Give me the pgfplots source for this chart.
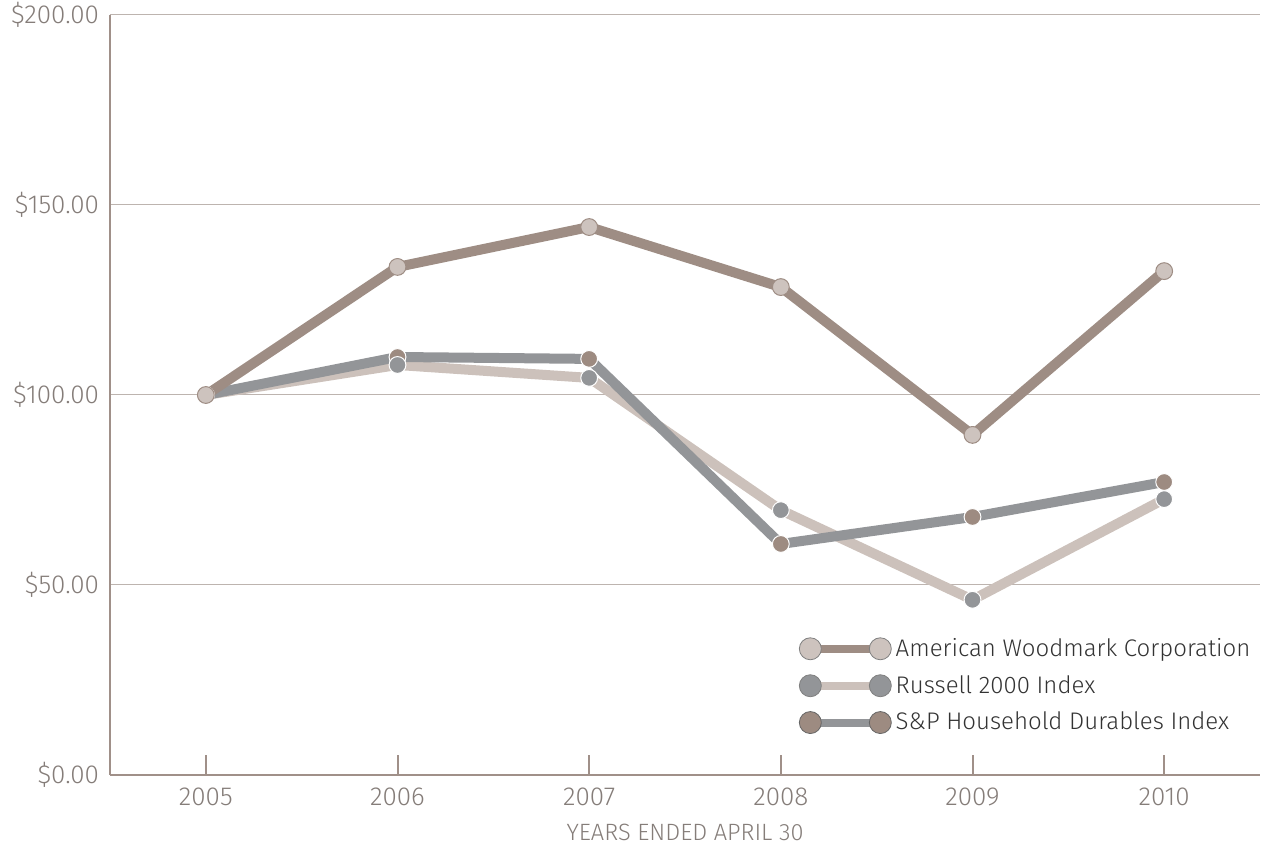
\documentclass[border=0pt]{standalone}
\usepackage{fontspec}
\setmainfont{Fira Sans}[UprightFont={* Light}]
\usepackage{pgfplots}
\usepackage{pgfplotstable}
\pgfplotsset{compat=1.18}
\definecolor{awline}{HTML}{9E8D84}
\definecolor{awmark}{HTML}{CDC3BE}
\definecolor{rline}{HTML}{CCC1BB}
\definecolor{rmark}{HTML}{939598}
\definecolor{sline}{HTML}{939598}
\definecolor{smark}{HTML}{9D8B81}
\definecolor{axcol}{HTML}{A09089}
\definecolor{gridcol}{HTML}{BDB4AF}
\definecolor{labcol}{HTML}{857D79}
\pgfplotstableread{
year aw rus sp
2005 100 100 100
2006 133.7 107.9 110.0
2007 144.2 104.5 109.5
2008 128.4 69.7 60.8
2009 89.5 46.1 67.9
2010 132.6 72.6 77.1
}\datatable
\begin{document}
\begin{tikzpicture}
\useasboundingbox (-55pt,-34.5pt) rectangle (578.5pt,387.5pt);
\begin{axis}[
  at={(0pt,0pt)}, anchor=south west,
  scale only axis, width=575pt, height=380pt,
  xmin=2004.5, xmax=2010.5, ymin=0, ymax=200,
  axis x line=bottom, axis y line=left,
  axis line style={draw=axcol, line width=1.2pt, -},
  xtick={2005,2006,2007,2008,2009,2010},
  xticklabels={2005,2006,2007,2008,2009,2010},
  ytick={0,50,100,150,200},
  yticklabels={\$0.00,\$50.00,\$100.00,\$150.00,\$200.00},
  tick align=inside, major tick length=10pt,
  xtick style={draw=axcol, line width=1pt},
  ytick style={draw=none},
  ymajorgrids, grid style={draw=gridcol, line width=0.5pt},
  ticklabel style={font=\fontsize{13}{15}\selectfont, text=labcol},
  xticklabel style={yshift=-3pt},
  yticklabel style={xshift=-2pt},
  /pgf/number format/assume math mode=true,
  xlabel={YEARS ENDED APRIL 30},
  xlabel style={font=\fontsize{11.8}{13}\selectfont, text=labcol, yshift=-2pt},
  legend style={draw=none, fill=none, at={(0.5935,0.191)}, anchor=north west,
    font=\fontsize{12}{14}\selectfont, text=black!80, row sep=4pt,
    cells={anchor=west}},
  line join=round,
]
% lines
\addplot[forget plot, rline, line width=5pt, mark=none] table[x=year,y=rus]{\datatable};
\addplot[forget plot, sline, line width=5pt, mark=none] table[x=year,y=sp]{\datatable};
\addplot[forget plot, awline, line width=5pt, mark=none] table[x=year,y=aw]{\datatable};
% markers
\addplot[forget plot, only marks, mark=*, mark size=4.2pt, mark options={fill=smark, draw=white, line width=0.5pt}] table[x=year,y=sp]{\datatable};
\addplot[forget plot, only marks, mark=*, mark size=4.2pt, mark options={fill=rmark, draw=white, line width=0.5pt}] table[x=year,y=rus]{\datatable};
\addplot[forget plot, only marks, mark=*, mark size=4.2pt, mark options={fill=awmark, draw=awline, line width=0.5pt}] table[x=year,y=aw]{\datatable};
% legend
\addlegendimage{legend image code/.code={\draw[awline, line width=4pt] (0pt,0pt)--(35pt,0pt); \filldraw[fill=awmark, draw=gray, line width=0.4pt] (0pt,0pt) circle (5.5pt) (35pt,0pt) circle (5.5pt);}}
\addlegendentry{American Woodmark Corporation}
\addlegendimage{legend image code/.code={\draw[rline, line width=4pt] (0pt,0pt)--(35pt,0pt); \filldraw[fill=rmark, draw=gray, line width=0.4pt] (0pt,0pt) circle (5.5pt) (35pt,0pt) circle (5.5pt);}}
\addlegendentry{Russell 2000 Index}
\addlegendimage{legend image code/.code={\draw[sline, line width=4pt] (0pt,0pt)--(35pt,0pt); \filldraw[fill=smark, draw=gray!80!black, line width=0.4pt] (0pt,0pt) circle (5.5pt) (35pt,0pt) circle (5.5pt);}}
\addlegendentry{S\&P Household Durables Index}
\end{axis}
\end{tikzpicture}
\end{document}
